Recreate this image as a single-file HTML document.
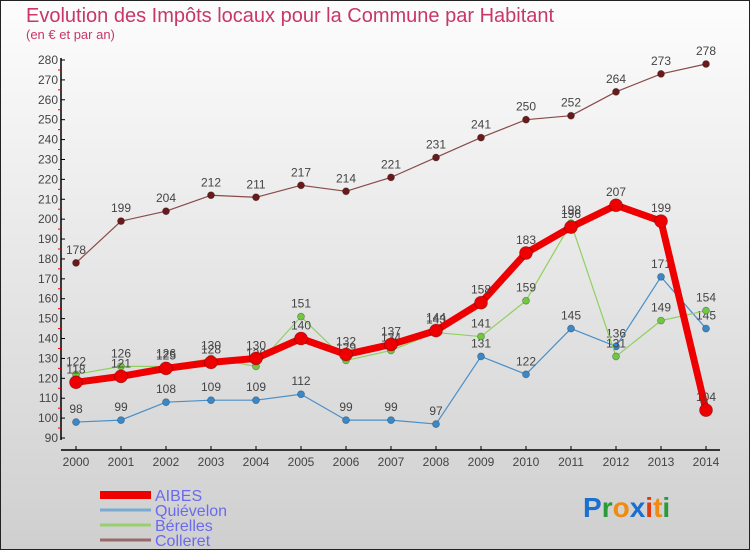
<!DOCTYPE html>
<html><head><meta charset="utf-8"><style>
body{margin:0;width:750px;height:550px;overflow:hidden}
svg{font-family:"Liberation Sans",sans-serif}
</style></head><body>
<svg width="750" height="550" xmlns="http://www.w3.org/2000/svg">
<defs><linearGradient id="bg" x1="0" y1="0" x2="0" y2="1"><stop offset="0" stop-color="#fdfdfd"/><stop offset="1" stop-color="#cfcfcf"/></linearGradient></defs>
<rect x="0.5" y="0.5" width="749" height="549" fill="url(#bg)" stroke="#222"/>
<text x="26" y="22" font-size="20" fill="#c8366a">Evolution des Impôts locaux pour la Commune par Habitant</text>
<text x="26" y="39" font-size="13" fill="#c8366a">(en € et par an)</text>
<g id="axes"></g>
<g id="series"></g>
<g id="legend"></g>
<text x="583" y="517" font-size="28" font-weight="bold"><tspan fill="#1a6fd0">P</tspan><tspan fill="#2a9a3a">r</tspan><tspan fill="#f08a10">o</tspan><tspan fill="#1a6fd0">x</tspan><tspan fill="#e03a10">i</tspan><tspan fill="#f08a10">t</tspan><tspan fill="#2a9a3a">i</tspan></text>
</svg>
<script>
const years=[2000,2001,2002,2003,2004,2005,2006,2007,2008,2009,2010,2011,2012,2013,2014];
const aibes=[118,121,125,128,130,140,132,137,144,158,183,196,207,199,104];
const quievelon=[98,99,108,109,109,112,99,99,97,131,122,145,136,171,145];
const berelles=[122,126,126,130,126,151,129,134,143,141,159,198,131,149,154];
const colleret=[178,199,204,212,211,217,214,221,231,241,250,252,264,273,278];
const yTicks=[90,100,110,120,130,140,150,160,170,180,190,200,210,220,230,240,250,260,270,280];
const NS="http://www.w3.org/2000/svg";
const X=i=>76+i*45, Y=v=>438-(v-90)*(378/190);
function mk(t,a,p){const e=document.createElementNS(NS,t);for(const k in a)e.setAttribute(k,a[k]);p.appendChild(e);return e;}
const ax=document.getElementById('axes');
let l=mk('line',{x1:61,y1:58,x2:61,y2:440,stroke:'#000','stroke-width':1.5},ax);


yTicks.forEach((v,k)=>{mk('line',{x1:61,y1:Y(v),x2:65,y2:Y(v),stroke:'#000'},ax);
 if(k<yTicks.length-1) mk('line',{x1:58,y1:Y(v+5),x2:61,y2:Y(v+5),stroke:'#e00'},ax);
 const t=mk('text',{x:58,y:Y(v)+4,'font-size':12,fill:'#444','text-anchor':'end'},ax);t.textContent=v;
 
 });
l=mk('line',{x1:61,y1:450,x2:720,y2:450,stroke:'#000','stroke-width':1.5},ax);


years.forEach((y,i)=>{mk('line',{x1:X(i),y1:446,x2:X(i),y2:450,stroke:'#000'},ax);
 const t=mk('text',{x:X(i),y:466,'font-size':12,fill:'#444','text-anchor':'middle'},ax);t.textContent=y;
 
 });
const sg=document.getElementById('series');
function series(name,data,color,w,r,fill){
 const g=mk('g',{},sg);
 
 
 mk('polyline',{points:data.map((v,i)=>X(i)+','+Y(v)).join(' '),fill:'none',stroke:color,'stroke-width':w,'stroke-linejoin':'round'},g);
 data.forEach((v,i)=>{const c=mk('circle',{cx:X(i),cy:Y(v),r:r,fill:fill,stroke:'rgba(0,0,0,0.3)','stroke-width':0.8},g);
  
  
  const t=mk('text',{x:X(i),y:Y(v)-9,'font-size':12,fill:'#444','text-anchor':'middle'},g);t.textContent=v;
  
  });
}
series('colleret',colleret,'#8a4a4a',1.2,3.5,'#6a1a1a');
series('quievelon',quievelon,'#4a90c8',1.2,3.5,'#3a88c8');
series('berelles',berelles,'#90d060',1.2,3.5,'#70c840');
series('aibes',aibes,'#ee0000',7,6.5,'#ee0000');
const lg=document.getElementById('legend');
const names=['AIBES','Quiévelon','Bérelles','Colleret'],cols=['#ee0000','#7aaad0','#98d070','#9a6a6a'],ws=[8,3,3,3];
names.forEach((n,i)=>{const y=495+i*15;
 const r=mk('line',{x1:100,y1:y,x2:151,y2:y,stroke:cols[i],'stroke-width':ws[i]},lg);
 
 
 const t=mk('text',{x:155,y:y+6,'font-size':16,fill:'#6a6af0'},lg);t.textContent=n;
 
 });
</script>
</body></html>
